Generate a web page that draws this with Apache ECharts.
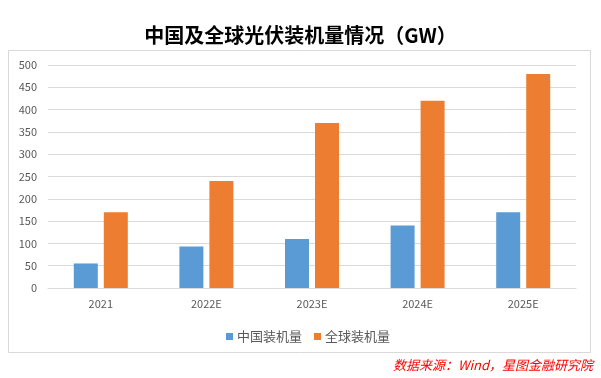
<!DOCTYPE html>
<html><head><meta charset="utf-8">
<script src="https://cdn.jsdelivr.net/npm/echarts@6/dist/echarts.min.js"></script>
<style>html,body{margin:0;padding:0;background:#fff}#c{width:601px;height:378px}</style>
</head><body><div id="c"></div>
<script>
const categories = ['2021', '2022E', '2023E', '2024E', '2025E'];
const chinaValues = [55, 93, 110, 140, 170];
const globalValues = [170, 240, 370, 420, 480];
const seriesNames = ['中国装机量', '全球装机量'];
const titleText = '中国及全球光伏装机量情况（GW）';
const sourceText = '数据来源：Wind，星图金融研究院';

const font = '"Noto Sans CJK SC", "Microsoft YaHei", sans-serif';
const chart = echarts.init(document.getElementById('c'));
chart.setOption({
  backgroundColor: '#ffffff',
  animation: false,
  title: {
    text: titleText, left: 'center', top: 20,
    textStyle: { fontFamily: font, fontSize: 20, fontWeight: 'bold', color: '#000' }
  },
  graphic: [
    { type: 'rect', shape: { x: 8.5, y: 50.5, width: 582, height: 302 },
      style: { fill: 'none', stroke: '#d9d9d9', lineWidth: 1 }, z: -1 },
    { type: 'text', right: 8, top: 359,
      style: { text: sourceText, fill: '#ff0000', font: 'italic 13px ' + font } }
  ],
  legend: {
    data: seriesNames, left: 221, top: 325, itemWidth: 7, itemHeight: 7, itemGap: 12,
    icon: 'rect',
    textStyle: { fontFamily: font, fontSize: 13, color: '#595959', padding: [0, 0, 0, -1] }
  },
  grid: { left: 48, right: 25, top: 65, bottom: 90 },
  xAxis: {
    type: 'category', data: categories,
    axisLine: { lineStyle: { color: '#d9d9d9' } },
    axisTick: { show: false },
    axisLabel: { color: '#595959', fontFamily: font, fontSize: 11, margin: 10 }
  },
  yAxis: {
    type: 'value', min: 0, max: 500, interval: 50,
    axisLine: { show: false }, axisTick: { show: false },
    splitLine: { lineStyle: { color: '#d9d9d9' } },
    axisLabel: { color: '#595959', fontFamily: font, fontSize: 11, margin: 11 }
  },
  series: [
    { name: seriesNames[0], type: 'bar', data: chinaValues, barWidth: 24, barGap: '25%',
      itemStyle: { color: '#5b9bd5' } },
    { name: seriesNames[1], type: 'bar', data: globalValues, barWidth: 24,
      itemStyle: { color: '#ed7d31' } }
  ]
});
</script></body></html>
